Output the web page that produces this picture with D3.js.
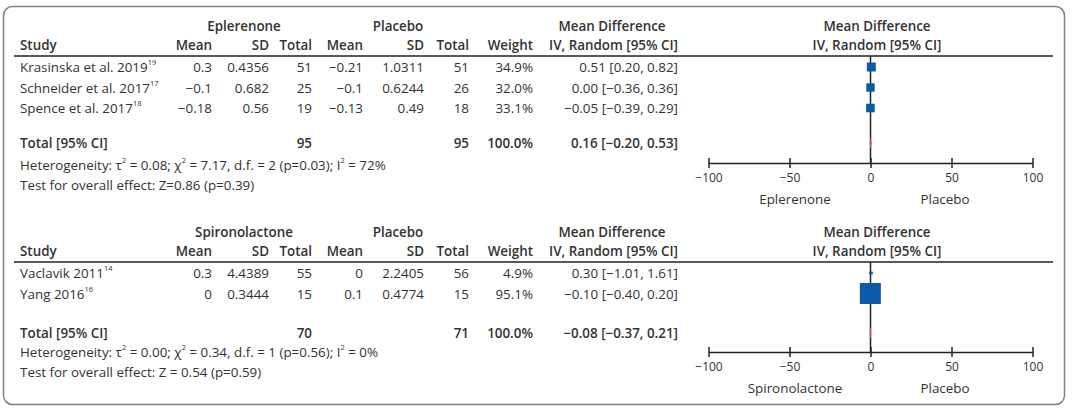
<!DOCTYPE html>
<html><head><meta charset="utf-8">
<script src="https://cdn.jsdelivr.net/npm/d3@7"></script>
<style>
body{margin:0;background:#fff;}
svg text{font-family:"Open Sans","Lato",sans-serif;fill:#333;}
</style></head>
<body><svg id="c" width="1072" height="415"></svg>
<script>
// ---- data ----
const epStudies = ["Krasinska et al. 2019", "Schneider et al. 2017", "Spence et al. 2017"];
const epRefs = ["19", "17", "18"];
const epMean = [0.3, -0.1, -0.18];
const epSD = ["0.4356", "0.682", "0.56"];
const epN = [51, 25, 19];
const epPlMean = [-0.21, -0.1, -0.13];
const epPlSD = ["1.0311", "0.6244", "0.49"];
const epPlN = [51, 26, 18];
const epWeight = [34.9, 32.0, 33.1];
const epMD = [0.51, 0.00, -0.05];
const epLo = [0.20, -0.36, -0.39];
const epHi = [0.82, 0.36, 0.29];
const epTotal = {n1: 95, n2: 95, md: 0.16, lo: -0.20, hi: 0.53};

const spStudies = ["Vaclavik 2011", "Yang 2016"];
const spRefs = ["14", "16"];
const spMean = [0.3, 0];
const spSD = ["4.4389", "0.3444"];
const spN = [55, 15];
const spPlMean = [0, 0.1];
const spPlSD = ["2.2405", "0.4774"];
const spPlN = [56, 15];
const spWeight = [4.9, 95.1];
const spMD = [0.30, -0.10];
const spLo = [-1.01, -0.40];
const spHi = [1.61, 0.20];
const spTotal = {n1: 70, n2: 71, md: -0.08, lo: -0.37, hi: 0.21};

const axisTicks = [-100, -50, 0, 50, 100];

const svg = d3.select("#c");
const fmtNum = v => (v < 0 ? "\u2212" : "") + Math.abs(v);
const fmt2 = v => (v < 0 ? "\u2212" : "") + Math.abs(v).toFixed(2);
const x = d3.scaleLinear().domain([-100, 100]).range([708.5, 1032.5]);
const sz = d3.scaleLinear().domain([0, 100]).range([2, 22]);

svg.append("rect").attr("x", 3.5).attr("y", 6.5).attr("width", 1061).attr("height", 398)
  .attr("rx", 9).attr("fill", "none").attr("stroke", "#8d7c78").attr("stroke-width", 1.5);

const cols = {mean: 212, sd: 269, n: 312, pmean: 363, psd: 424, pn: 469, w: 533, md: 678};
const FS = 13.4;

function panel(o) {
  const g = svg.append("g");
  const t = (xx, yy, s, anchor, bold, size) => g.append("text").attr("x", xx).attr("y", yy)
    .attr("text-anchor", anchor || "end").attr("dominant-baseline", "central")
    .attr("font-size", size || FS).attr("font-weight", bold ? 600 : 400).text(s);
  // group headers
  t(244, o.y0, o.drug, "middle", true);
  t(398, o.y0, "Placebo", "middle", true);
  t(612, o.y0, "Mean Difference", "middle", true);
  t(877, o.y0, "Mean Difference", "middle", true);
  const y1 = o.y0 + 19;
  t(20, y1, "Study", "start", true);
  t(cols.mean, y1, "Mean", "end", true);
  t(cols.sd, y1, "SD", "end", true);
  t(cols.n, y1, "Total", "end", true);
  t(cols.pmean, y1, "Mean", "end", true);
  t(cols.psd, y1, "SD", "end", true);
  t(cols.pn, y1, "Total", "end", true);
  t(cols.w, y1, "Weight", "end", true);
  t(cols.md, y1, "IV, Random [95% CI]", "end", true);
  t(877, y1, "IV, Random [95% CI]", "middle", true);
  const lineY = o.y0 + 30;
  g.append("line").attr("x1", 14).attr("x2", 1053).attr("y1", lineY).attr("y2", lineY)
    .attr("stroke", "#222").attr("stroke-width", 1.5);
  const rowY = i => lineY + 11 + i * 20.5;
  o.studies.forEach((s, i) => {
    const yy = rowY(i);
    const tx = t(20, yy, s, "start");
    tx.append("tspan").attr("font-size", 7.5).attr("dy", -5).text(o.refs[i]);
    t(cols.mean, yy, fmtNum(o.mean[i]));
    t(cols.sd, yy, o.sd[i]);
    t(cols.n, yy, o.n[i]);
    t(cols.pmean, yy, fmtNum(o.pmean[i]));
    t(cols.psd, yy, o.psd[i]);
    t(cols.pn, yy, o.pn[i]);
    t(cols.w, yy, o.w[i].toFixed(1) + "%");
    t(cols.md, yy, fmt2(o.md[i]) + " [" + fmt2(o.lo[i]) + ", " + fmt2(o.hi[i]) + "]");
  });
  const ty = o.totalY;
  t(20, ty, "Total [95% CI]", "start", true);
  t(cols.n, ty, o.tot.n1, "end", true);
  t(cols.pn, ty, o.tot.n2, "end", true);
  t(cols.w, ty, "100.0%", "end", true);
  t(cols.md, ty, fmt2(o.tot.md) + " [" + fmt2(o.tot.lo) + ", " + fmt2(o.tot.hi) + "]", "end", true);
  // heterogeneity
  const h = t(20, o.hetY, "", "start");
  o.het.forEach(p => {
    if (p.sup) h.append("tspan").attr("font-size", 7.5).attr("dy", -5).text(p.sup);
    else h.append("tspan").attr("dy", p.after ? 5 : 0).text(p.s);
  });
  t(20, o.hetY + 20, o.test, "start");

  // forest plot
  g.append("line").attr("x1", x(0)).attr("x2", x(0)).attr("y1", lineY).attr("y2", o.axisY)
    .attr("stroke", "#222").attr("stroke-width", 1.5);
  o.studies.forEach((s, i) => {
    const yy = rowY(i);
    g.append("line").attr("x1", x(o.lo[i])).attr("x2", x(o.hi[i])).attr("y1", yy).attr("y2", yy)
      .attr("stroke", "#1f4e79").attr("stroke-width", 1.2);
    const size = sz(o.w[i]);
    g.append("rect").attr("x", x(o.md[i]) - size / 2).attr("y", yy - size / 2)
      .attr("width", size).attr("height", size).attr("fill", "#0a5aa8");
  });
  g.append("path").attr("d", `M${x(o.tot.lo)},${ty} L${x(o.tot.md)},${ty - 5} L${x(o.tot.hi)},${ty} L${x(o.tot.md)},${ty + 5}Z`)
    .attr("fill", "#b8452e").attr("stroke", "#c96a55").attr("stroke-width", 0.6);
  const ax = g.append("g").attr("transform", `translate(0,${o.axisY})`)
    .call(d3.axisBottom(x).tickValues(axisTicks).tickSizeInner(5).tickSizeOuter(0).tickPadding(5)
      .tickFormat(d => fmtNum(d)));
  ax.select(".domain").attr("stroke", "#222").attr("stroke-width", 1.5);
  ax.selectAll(".tick line").attr("y1", -5).attr("y2", 5).attr("stroke", "#222").attr("stroke-width", 1.5);
  ax.selectAll(".tick text").attr("font-size", 12).attr("fill", "#444")
    .attr("font-family", "'Open Sans', Lato, sans-serif");
  t(795, o.axisY + 36, o.drug, "middle");
  t(945, o.axisY + 36, "Placebo", "middle");
}

panel({
  drug: "Eplerenone", y0: 26, studies: epStudies, refs: epRefs, mean: epMean, sd: epSD, n: epN,
  pmean: epPlMean, psd: epPlSD, pn: epPlN, w: epWeight, md: epMD, lo: epLo, hi: epHi, tot: epTotal,
  totalY: 143, hetY: 165, axisY: 163,
  het: [{s: "Heterogeneity: \u03c4"}, {sup: "2"}, {s: " = 0.08; \u03c7", after: true}, {sup: "2"},
        {s: " = 7.17, d.f. = 2 (p=0.03); I", after: true}, {sup: "2"}, {s: " = 72%", after: true}],
  test: "Test for overall effect: Z=0.86 (p=0.39)"
});
panel({
  drug: "Spironolactone", y0: 232, studies: spStudies, refs: spRefs, mean: spMean, sd: spSD, n: spN,
  pmean: spPlMean, psd: spPlSD, pn: spPlN, w: spWeight, md: spMD, lo: spLo, hi: spHi, tot: spTotal,
  totalY: 333, hetY: 352, axisY: 352,
  het: [{s: "Heterogeneity: \u03c4"}, {sup: "2"}, {s: " = 0.00; \u03c7", after: true}, {sup: "2"},
        {s: " = 0.34, d.f. = 1 (p=0.56); I", after: true}, {sup: "2"}, {s: " = 0%", after: true}],
  test: "Test for overall effect: Z = 0.54 (p=0.59)"
});
</script></body></html>
